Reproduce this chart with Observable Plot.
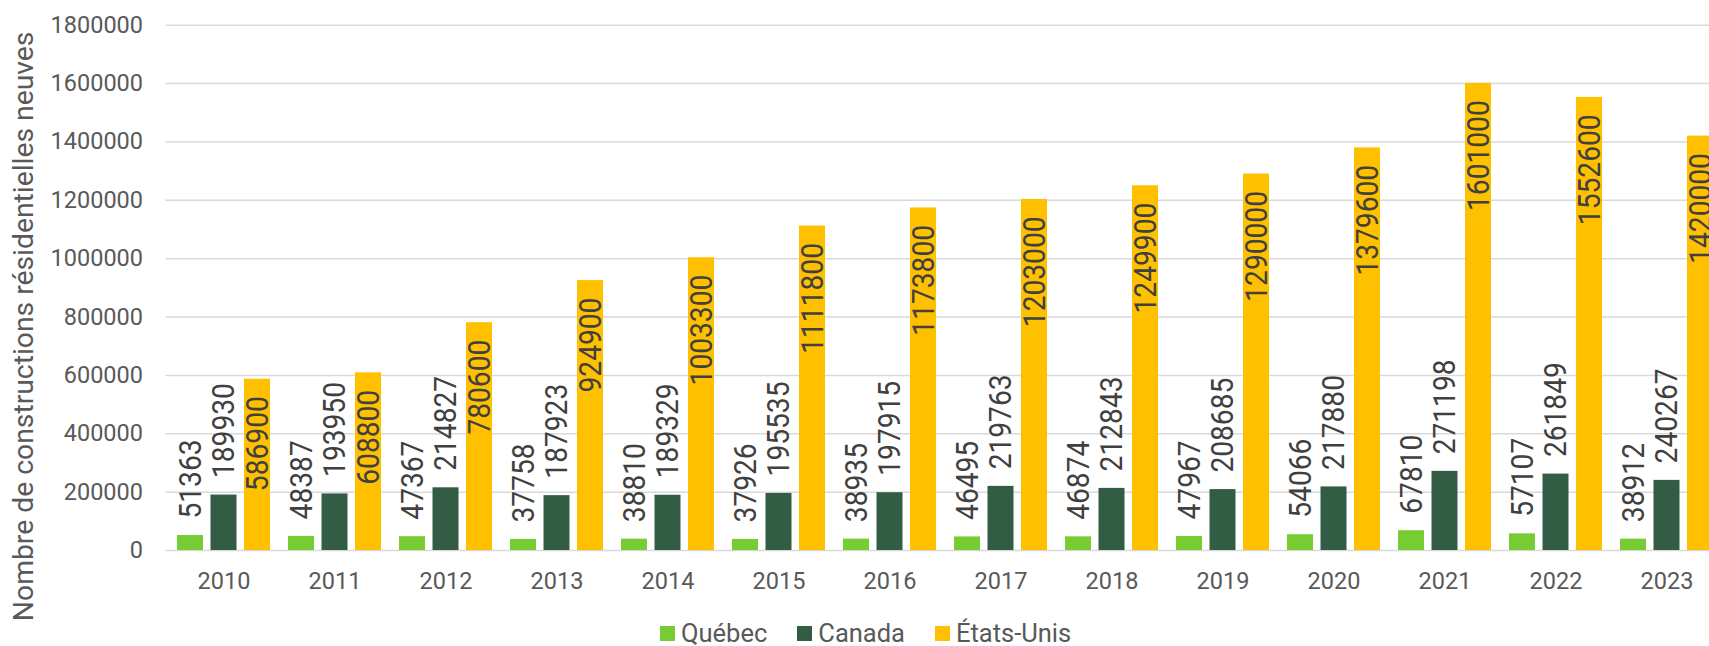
<!DOCTYPE html>
<html>
<head>
<meta charset="utf-8">
<script src="https://cdn.jsdelivr.net/npm/d3@7"></script>
<script src="https://cdn.jsdelivr.net/npm/@observablehq/plot@0.6"></script>
<style>
  html, body { margin: 0; padding: 0; background: #fff; overflow: hidden; }
  #wrap { position: relative; width: 1709px; height: 646px; overflow: hidden; }
  #chart { position: absolute; left: 0; top: 0; width: 1730px; }
  #chart svg { max-width: none !important; width: 1730px; }
  #legend { position: absolute; left: 660px; top: 621px; height: 24px; display: flex; align-items: center;
            font-family: Roboto, sans-serif; font-size: 25.5px; color: #595959; line-height: 24px; white-space: nowrap; }
  .item { display: flex; align-items: center; margin-right: 30px; }
  .sw { width: 15px; height: 15px; margin-right: 6px; }
</style>
</head>
<body>
<div id="wrap">
  <div id="chart"></div>
  <div id="legend"></div>
</div>
<script>
const years = ["2010","2011","2012","2013","2014","2015","2016","2017","2018","2019","2020","2021","2022","2023"];
const quebec = [51363, 48387, 47367, 37758, 38810, 37926, 38935, 46495, 46874, 47967, 54066, 67810, 57107, 38912];
const canada = [189930, 193950, 214827, 187923, 189329, 195535, 197915, 219763, 212843, 208685, 217880, 271198, 261849, 240267];
const etatsUnis = [586900, 608800, 780600, 924900, 1003300, 1111800, 1173800, 1203000, 1249900, 1290000, 1379600, 1601000, 1552600, 1420000];
const seriesNames = ["Québec", "Canada", "États-Unis"];
const seriesColors = ["#77cc33", "#325c44", "#ffc000"];
const yTicks = [0, 200000, 400000, 600000, 800000, 1000000, 1200000, 1400000, 1600000, 1800000];
const yTitle = "Nombre de constructions résidentielles neuves";

const seriesValues = [quebec, canada, etatsUnis];
const rows = seriesValues.map((vals, k) => years.map((y, i) => ({year: y, series: seriesNames[k], value: vals[i]})));

const off = 33.5; // offset between bars in a group
const marks = [
  Plot.ruleY(yTicks, {stroke: "#d9d9d9", strokeWidth: 1.5})
];
rows.forEach((data, k) => {
  marks.push(Plot.barY(data, {
    x: "year", y: "value", fill: seriesColors[k],
    insetLeft: k * off, insetRight: (2 - k) * off
  }));
});
rows.forEach((data, k) => {
  const inside = k === 2;
  marks.push(Plot.text(data, {
    x: "year", y: "value", text: d => String(d.value),
    rotate: -90, textAnchor: inside ? "end" : "start",
    dx: (k - 1) * off, dy: inside ? 17 : -17,
    fontSize: 32, fill: "#404040", fontFamily: "Roboto"
  }));
});
marks.push(Plot.text([yTitle], {
  text: d => d, frameAnchor: "left", textAnchor: "middle", rotate: -90,
  dx: -142, dy: 38.5, fontSize: 28.3, fill: "#595959", fontFamily: "Roboto"
}));

const plot = Plot.plot({
  width: 1730,
  height: 646,
  marginLeft: 165.5,
  marginRight: 6.3,
  marginTop: 24.7,
  marginBottom: 96,
  style: {fontFamily: "Roboto", fontSize: "23.5px", color: "#595959", background: "transparent", maxWidth: "none"},
  x: {domain: years, paddingInner: 0.164, paddingOuter: 0.082, tickSize: 0, tickPadding: 22, label: null},
  y: {domain: [0, 1800000], ticks: yTicks, tickSize: 0, tickPadding: 23, tickFormat: d => String(d), label: null},
  marks
});
document.getElementById("chart").appendChild(plot);

// condense the rotated value labels
plot.querySelectorAll("text").forEach(t => {
  const tr = t.getAttribute("transform");
  if (tr && tr.includes("rotate(-90)") && /^\d+$/.test(t.textContent)) {
    t.setAttribute("transform", tr + " scale(0.88,1)");
  }
});

const legend = document.getElementById("legend");
seriesNames.forEach((name, k) => {
  const it = document.createElement("div");
  it.className = "item";
  const sw = document.createElement("div");
  sw.className = "sw";
  sw.style.background = seriesColors[k];
  const tx = document.createElement("span");
  tx.textContent = name;
  it.appendChild(sw); it.appendChild(tx);
  legend.appendChild(it);
});
</script>
</body>
</html>
